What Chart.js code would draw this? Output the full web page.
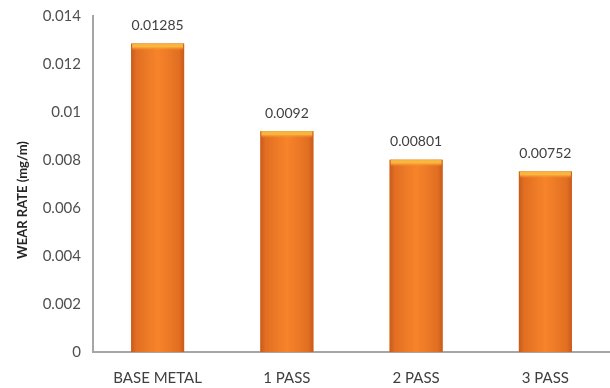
<!DOCTYPE html>
<html>
<head>
<meta charset="utf-8">
<script src="https://cdn.jsdelivr.net/npm/chart.js@4/dist/chart.umd.min.js"></script>
<style>
  html, body { margin: 0; padding: 0; background: #fff; }
</style>
</head>
<body>
<canvas id="myChart" width="610" height="388"></canvas>
<script>
// wear rate for each condition
const labels = ["BASE METAL", "1 PASS", "2 PASS", "3 PASS"];
const values = [0.01285, 0.0092, 0.00801, 0.00752];
const valueLabels = ["0.01285", "0.0092", "0.00801", "0.00752"];
const yTicks = [0, 0.002, 0.004, 0.006, 0.008, 0.01, 0.012, 0.014];
const yTitle = "WEAR RATE (mg/m)";

const FONT = "Lato, 'Open Sans', sans-serif";

// shaded bars with a light cap on top, plus the value above each one
const barStyle = {
  id: "barStyle",
  afterDatasetsDraw(chart) {
    const c = chart.ctx;
    const meta = chart.getDatasetMeta(0);
    meta.data.forEach((bar, i) => {
      const left = bar.x - bar.width / 2;
      const right = bar.x + bar.width / 2;
      const top = bar.y;
      const bottom = bar.base;

      const g = c.createLinearGradient(left, 0, right, 0);
      g.addColorStop(0, "#c85a1c");
      g.addColorStop(0.1, "#e26f22");
      g.addColorStop(0.5, "#f7842a");
      g.addColorStop(0.9, "#e26f22");
      g.addColorStop(1, "#c85a1c");
      c.save();
      c.fillStyle = g;
      c.fillRect(left, top, right - left, bottom - top);

      // cap
      const cg = c.createLinearGradient(0, top, 0, top + 7);
      cg.addColorStop(0, "#f4b443");
      cg.addColorStop(0.45, "#fbb73d");
      cg.addColorStop(1, "rgba(247,132,42,0)");
      c.fillStyle = cg;
      c.fillRect(left + 1, top, right - left - 2, 7);

      c.fillStyle = "#404040";
      c.font = "14px " + FONT;
      c.textAlign = "center";
      c.textBaseline = "middle";
      c.fillText(valueLabels[i], bar.x, top - 18);
      c.restore();
    });

    // y axis title
    c.save();
    c.translate(23, 200);
    c.rotate(-Math.PI / 2);
    c.fillStyle = "#262626";
    c.font = "bold 13px " + FONT;
    c.textAlign = "center";
    c.textBaseline = "middle";
    c.fillText(yTitle, 0, 0);
    c.restore();
  },
};

var ctx = document.getElementById("myChart").getContext("2d");
var myChart = new Chart(ctx, {
  type: "bar",
  data: {
    labels: labels,
    datasets: [
      {
        label: "WEAR RATE",
        data: values,
        backgroundColor: "#f07f24",
        borderWidth: 0,
        barPercentage: 0.41,
        categoryPercentage: 1,
      },
    ],
  },
  options: {
    responsive: false,
    animation: false,
    layout: { padding: { top: 13, right: 0, left: 0, bottom: 0 } },
    plugins: {
      legend: { display: false },
      tooltip: { enabled: false },
    },
    scales: {
      x: {
        grid: { display: false, drawTicks: false },
        border: { color: "#a6a6a6", width: 2 },
        ticks: {
          color: "#404040",
          font: { family: FONT, size: 15 },
          padding: 17,
        },
        afterFit: (s) => { s.height = 36; },
      },
      y: {
        min: 0,
        max: 0.014,
        afterBuildTicks: (s) => { s.ticks = yTicks.map((v) => ({ value: v })); },
        grid: { display: false, drawOnChartArea: false, drawTicks: true, tickLength: 5, color: "#a6a6a6", lineWidth: 1.5 },
        border: { color: "#a6a6a6", width: 2 },
        ticks: {
          color: "#505050",
          font: { family: FONT, size: 15 },
          padding: 7,
          callback: (v) => String(+v.toFixed(3)),
        },
        afterFit: (s) => { s.width = 93; },
      },
    },
  },
  plugins: [barStyle],
});
</script>
</body>
</html>
